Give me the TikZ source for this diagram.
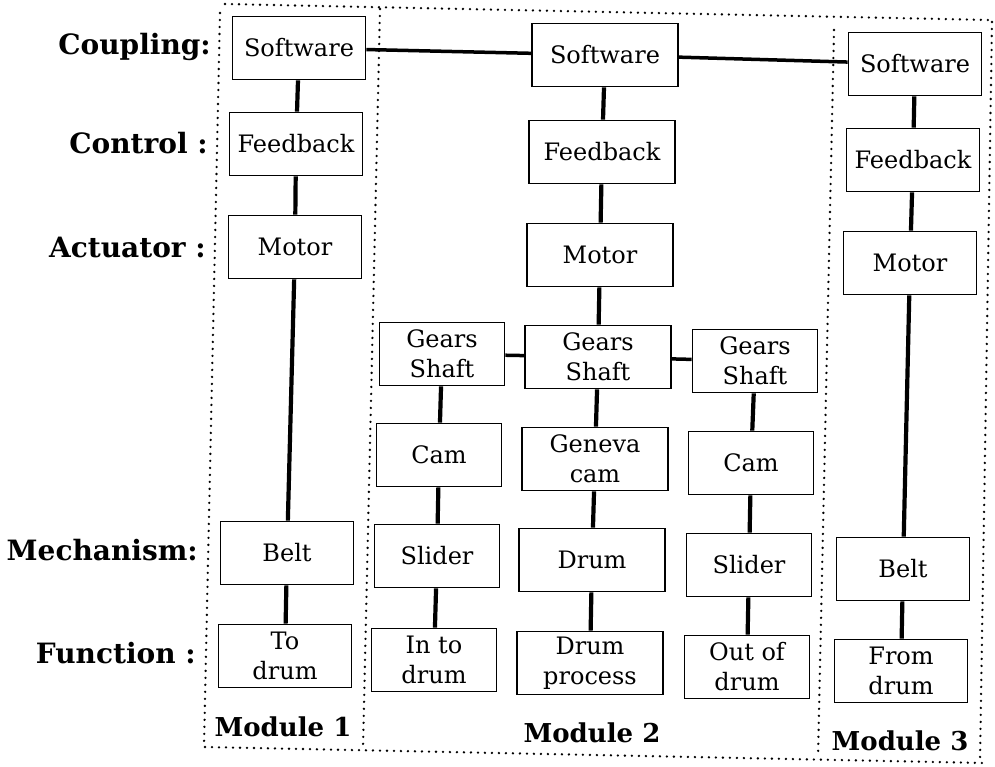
\documentclass[tikz,border=0pt]{standalone}
\usepackage{fontspec}
\setmainfont{DejaVu Serif}
\begin{document}
\begin{tikzpicture}[x=1pt,y=-1pt,
  blk/.style={draw, line width=1.8pt, inner sep=0pt, minimum height=63pt,
    align=center, font=\fontsize{24}{30}\selectfont},
  wA/.style={blk, minimum width=133pt},
  wB/.style={blk, minimum width=146pt},
  wC/.style={blk, minimum width=125pt},
  lab/.style={anchor=east, inner sep=0pt, font=\fontsize{28}{30}\selectfont\bfseries},
  modlab/.style={inner sep=0pt, font=\fontsize{26}{30}\selectfont\bfseries},
  link/.style={line width=4.2pt},
  hlink/.style={line width=3.5pt},
  frame/.style={line width=2.6pt, dash pattern=on 0pt off 7pt, line cap=round}
]
\useasboundingbox (0,0) rectangle (995,766);

% frame coordinates
\coordinate (tl) at (225,4);   \coordinate (tr) at (990,20);
\coordinate (bl) at (205,747); \coordinate (br) at (985,763);
\coordinate (m1lt) at (220,13); \coordinate (m1lb) at (204,745);
\coordinate (m1rt) at (380,9);  \coordinate (m1rb) at (363,748);
\coordinate (m3lt) at (834,30); \coordinate (m3lb) at (818,757);
\coordinate (m3rt) at (992,22); \coordinate (m3rb) at (980,760);

\draw[frame] (tl) -- (tr);
\draw[frame] (bl) -- (br);
\draw[frame] (m1lt) -- (m1lb);
\draw[frame] (m1rt) -- (m1rb);
\draw[frame] (m3lt) -- (m3lb);
\draw[frame] (m3rt) -- (m3rb);

% row labels
\node[lab] (lcoup) at (211,47)  {Coupling:};
\node[lab] (lcont) at (208,143) {Control :};
\node[lab] (lact)  at (206,247) {Actuator :};
\node[lab] (lmech) at (198,550) {Mechanism:};
\node[lab] (lfunc) at (196,653) {Function :};

% Module 1
\node[wA] (sw1) at (299,48)  {Software};
\node[wA] (fb1) at (296,144) {Feedback};
\node[wA] (mo1) at (295,247) {Motor};
\node[wA] (be1) at (287,553) {Belt};
\node[wA] (fn1) at (285,656) {To\\drum};

% Module 2 centre column
\node[wB] (sw2) at (605,55)  {Software};
\node[wB] (fb2) at (602,152) {Feedback};
\node[wB] (mo2) at (600,255) {Motor};
\node[wB] (gs2) at (598,357) {Gears\\Shaft};
\node[wB] (gc2) at (595,459) {Geneva\\cam};
\node[wB] (dr2) at (592,560) {Drum};
\node[wB] (fn2) at (590,663) {Drum\\process};

% Module 2 left column
\node[wC] (gsL) at (442,354) {Gears\\Shaft};
\node[wC] (caL) at (439,455) {Cam};
\node[wC] (slL) at (437,556) {Slider};
\node[wC] (fnL) at (434,660) {In to\\drum};

% Module 2 right column
\node[wC] (gsR) at (755,361) {Gears\\Shaft};
\node[wC] (caR) at (751,463) {Cam};
\node[wC] (slR) at (749,565) {Slider};
\node[wC] (fnR) at (747,667) {Out of\\drum};

% Module 3
\node[wA] (sw3) at (915,64)  {Software};
\node[wA] (fb3) at (913,160) {Feedback};
\node[wA] (mo3) at (910,263) {Motor};
\node[wA] (be3) at (903,569) {Belt};
\node[wA] (fn3) at (901,671) {From\\drum};

% module labels
\node[modlab] (mod1) at (283,727) {Module 1};
\node[modlab] (mod2) at (592,733) {Module 2};
\node[modlab] (mod3) at (900,741) {Module 3};

% connectors
\draw[hlink] (sw1) -- (sw2);
\draw[hlink] (sw2) -- (sw3);
\draw[hlink] (gsL) -- (gs2);
\draw[hlink] (gs2) -- (gsR);

\draw[link] (sw1) -- (fb1);
\draw[link] (fb1) -- (mo1);
\draw[link] (mo1) -- (be1);
\draw[link] (be1) -- (fn1);

\draw[link] (sw2) -- (fb2);
\draw[link] (fb2) -- (mo2);
\draw[link] (mo2) -- (gs2);
\draw[link] (gs2) -- (gc2);
\draw[link] (gc2) -- (dr2);
\draw[link] (dr2) -- (fn2);

\draw[link] (gsL) -- (caL);
\draw[link] (caL) -- (slL);
\draw[link] (slL) -- (fnL);

\draw[link] (gsR) -- (caR);
\draw[link] (caR) -- (slR);
\draw[link] (slR) -- (fnR);

\draw[link] (sw3) -- (fb3);
\draw[link] (fb3) -- (mo3);
\draw[link] (mo3) -- (be3);
\draw[link] (be3) -- (fn3);
\end{tikzpicture}
\end{document}
